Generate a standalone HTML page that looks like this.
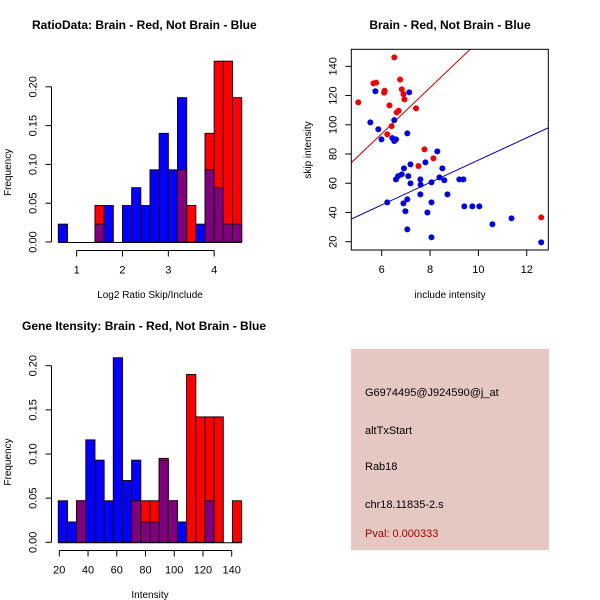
<!DOCTYPE html>
<html><head><meta charset="utf-8"><style>
body{margin:0;background:#fff}
svg{display:block;font-family:"Liberation Sans",Arial,sans-serif}
</style></head><body>
<svg id="s" width="600" height="600" viewBox="0 0 600 600">
<rect width="600" height="600" fill="#fff"/>
<text x="32" y="29" font-size="12" font-weight="bold">RatioData: Brain - Red, Not Brain - Blue</text>
<text x="450" y="29" font-size="12" font-weight="bold" text-anchor="middle">Brain - Red, Not Brain - Blue</text>
<text x="22" y="330" font-size="12" font-weight="bold">Gene Itensity: Brain - Red, Not Brain - Blue</text>
<g id="p1"></g>
<g id="p2"></g>
<g id="p3"></g>
<g font-size="11">
<rect x="351" y="349" width="198" height="201" fill="#e6c8c2"/>
<text x="365" y="396">G6974495@J924590@j_at</text>
<text x="365" y="434">altTxStart</text>
<text x="365" y="470">Rab18</text>
<text x="365" y="508">chr18.11835-2.s</text>
<text x="365" y="537" fill="#a00000">Pval: 0.000333</text>
</g>
</svg>
<script>
// Ratio histogram data (bins of 0.2 from 0.6)
const ratioBinStart = 0.6;
const ratioBinWidth = 0.2;
const ratioBlue = [0.023,0,0,0,0.023,0.047,0,0.047,0.07,0.047,0.093,0.14,0.093,0.186,0,0.023,0.093,0.07,0.023,0.023];
const ratioRed  = [0,0,0,0,0.047,0,0,0,0,0,0,0,0,0.093,0.047,0,0.14,0.233,0.233,0.186];
const ratioXTicks = [1,2,3,4];
const freqTicks = ["0.00","0.05","0.10","0.15","0.20"];
// Intensity histogram data
const intBinStart = 19.3;
const intBinWidth = 6.38;
const intBlue = [0.047,0.023,0.047,0.116,0.093,0.047,0.209,0.07,0.093,0.023,0.023,0.093,0.047,0.023,0,0,0.047,0,0,0];
const intRed  = [0,0,0.047,0,0,0,0,0,0.047,0.047,0.047,0.095,0.047,0,0.19,0.142,0.142,0.142,0,0.047];
const intXTicks = [20,40,60,80,100,120,140];
// Scatter data
const redX = [5.03,5.66,5.77,6.12,6.1,6.32,6.41,6.23,6.52,6.62,6.7,6.76,6.83,6.9,6.94,7.42,7.77,7.52,8.14,12.6];
const redY = [115.3,128.3,128.8,123.3,122,113.3,99.1,93.4,146.1,108.5,109.6,131,124.2,121,117.4,111.2,83.2,71.8,77,36.6];
const blueX = [5.53,5.74,5.86,5.99,6.44,6.52,6.52,6.59,7.06,7.14,6.23,6.59,6.68,6.83,6.92,7.1,7.19,7.19,6.9,6.98,7.06,7.06,7.6,7.61,7.6,7.81,7.89,8.06,8.06,8.06,8.3,8.39,8.51,8.59,8.72,9.21,9.38,9.42,9.75,10.04,10.58,11.37,12.6];
const blueY = [101.6,122.9,96.9,90,90.9,88.9,103.2,90,94.1,122.2,46.9,62.6,64.9,66.1,70.2,64.9,72.9,59.9,46.2,40.8,49,28.4,62.6,59,52.4,74.3,40,60.6,46.9,23,81.8,64,70.2,62,52.4,62.6,62.6,44.2,44.2,44.2,31.9,36,19.5];
const redFit = [-0.75,15.77];
const blueFit = [-0.8,7.66];
const scXTicks = [6,8,10,12];
const scYTicks = [20,40,60,80,100,120,140];

const NS="http://www.w3.org/2000/svg";
function mk(p,tag,a){const e=document.createElementNS(NS,tag);for(const k in a)e.setAttribute(k,a[k]);p.appendChild(e);return e;}

function hist(g,bs,bw,blue,red,xt,xs,ys,y0,axY,yAxX,xlab,labY,nm){
  for(let i=0;i<blue.length;i++){
    const x0=xs(bs+i*bw),x1=xs(bs+(i+1)*bw);
    const b=blue[i],r=red[i],mx=Math.max(b,r),mn=Math.min(b,r);
    if(mx>0){const big=mk(g,'rect',{x:x0,y:ys(mx),width:x1-x0,height:ys(0)-ys(mx),fill:r>b?'#ff0000':'#0000ff',stroke:'#200010','stroke-width':1});
      
      }
    if(mn>0){const o=mk(g,'rect',{x:x0,y:ys(mn),width:x1-x0,height:ys(0)-ys(mn),fill:'#7f007f',stroke:'#200010','stroke-width':1});
      
      }
  }
  mk(g,'line',{x1:xs(bs),x2:xs(bs+blue.length*bw),y1:y0+0.5,y2:y0+0.5,stroke:'#000'});
  mk(g,'line',{x1:yAxX,x2:yAxX,y1:ys(0),y2:ys(0.2),stroke:'#000'});
  freqTicks.forEach(t=>{const y=ys(+t);mk(g,'line',{x1:yAxX-6,x2:yAxX,y1:y,y2:y,stroke:'#000'});
    const tx=mk(g,'text',{x:yAxX-15,y:y,'font-size':11,'text-anchor':'middle',transform:`rotate(-90 ${yAxX-15} ${y})`});tx.textContent=t;});
  const yl=mk(g,'text',{x:11,y:(ys(0)+ys(0.2))/2+8,'font-size':10,'text-anchor':'middle',transform:`rotate(-90 11 ${(ys(0)+ys(0.2))/2+8})`});yl.textContent='Frequency';
  mk(g,'line',{x1:xs(xt[0]),x2:xs(xt[xt.length-1]),y1:axY,y2:axY,stroke:'#000'});
  xt.forEach(t=>{mk(g,'line',{x1:xs(t),x2:xs(t),y1:axY,y2:axY+6,stroke:'#000'});
    const tx=mk(g,'text',{x:xs(t),y:axY+23,'font-size':11,'text-anchor':'middle'});tx.textContent=t;});
  const xl=mk(g,'text',{x:150,y:labY,'font-size':10,'text-anchor':'middle'});xl.textContent=xlab;
}
const p1=document.getElementById('p1');
hist(p1,ratioBinStart,ratioBinWidth,ratioBlue,ratioRed,ratioXTicks,
  v=>58.3+(v-0.6)*45.85, v=>242-v*776, 242, 250.5, 51.5, 'Log2 Ratio Skip/Include', 298,'ratio');
const p3=document.getElementById('p3');
hist(p3,intBinStart,intBinWidth,intBlue,intRed,intXTicks,
  v=>59.3+(v-20)*1.4367, v=>542.3-v*883, 542.3, 550.5, 51.5, 'Intensity', 598,'intensity');

const p2=document.getElementById('p2');
const sx=v=>381.7+(v-6)*24.17, sy=v=>241.7-(v-20)*1.4617;
const L=351.3,R=548.3,T=49.3,B=250;
mk(p2,'defs',{}).innerHTML='<clipPath id="c"><rect x="351.3" y="49.3" width="197" height="200.7"/></clipPath>';
const lr=mk(p2,'line',{x1:sx(4),y1:sy(redFit[0]+redFit[1]*4),x2:sx(14),y2:sy(redFit[0]+redFit[1]*14),stroke:'#c00000','clip-path':'url(#c)'});


const lb=mk(p2,'line',{x1:sx(4),y1:sy(blueFit[0]+blueFit[1]*4),x2:sx(14),y2:sy(blueFit[0]+blueFit[1]*14),stroke:'#0000a0','clip-path':'url(#c)'});


blueX.forEach((x,i)=>{const c=mk(p2,'circle',{cx:sx(x),cy:sy(blueY[i]),r:3,fill:'#0000dd'});
  
  });
redX.forEach((x,i)=>{const c=mk(p2,'circle',{cx:sx(x),cy:sy(redY[i]),r:3,fill:'#ee0000'});
  
  });
mk(p2,'rect',{x:L,y:T,width:R-L,height:B-T,fill:'none',stroke:'#000'});
scXTicks.forEach(t=>{mk(p2,'line',{x1:sx(t),x2:sx(t),y1:B,y2:B+6,stroke:'#000'});
  const tx=mk(p2,'text',{x:sx(t),y:B+23,'font-size':11,'text-anchor':'middle'});tx.textContent=t;});
scYTicks.forEach(t=>{const y=sy(t);mk(p2,'line',{x1:L-6,x2:L,y1:y,y2:y,stroke:'#000'});
  const tx=mk(p2,'text',{x:L-15,y:y,'font-size':11,'text-anchor':'middle',transform:`rotate(-90 ${L-15} ${y})`});tx.textContent=t;});
const sxl=mk(p2,'text',{x:450,y:298,'font-size':10,'text-anchor':'middle'});sxl.textContent='include intensity';
const syl=mk(p2,'text',{x:311,y:150,'font-size':10,'text-anchor':'middle',transform:'rotate(-90 311 150)'});syl.textContent='skip intensity';
</script>
</body></html>
